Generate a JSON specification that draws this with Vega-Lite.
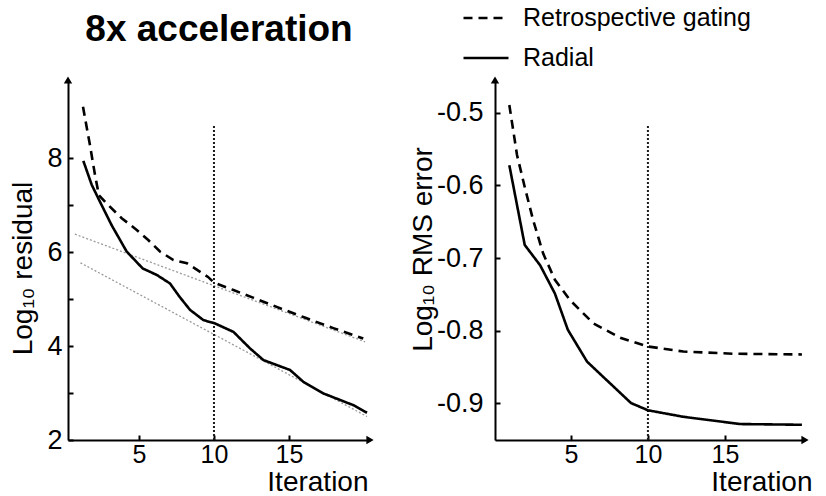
{
  "$schema": "https://vega.github.io/schema/vega-lite/v6.json",
  "autosize": {"type": "none"},
  "padding": {"left": 68, "top": 80, "right": 758, "bottom": 416},
  "background": "white",
  "align": "none",
  "spacing": 35,
  "resolve": {"legend": {"strokeDash": "independent"}},
  "config": {
    "font": "Liberation Sans",
    "view": {"stroke": null},
    "axis": {
      "grid": false, "domainColor": "black", "domainWidth": 2,
      "tickColor": "black", "tickWidth": 2, "tickSize": -5,
      "labelFont": "Liberation Sans", "labelFontSize": 27, "labelColor": "black",
      "titleFont": "Liberation Sans", "titleFontSize": 28, "titleFontWeight": "normal", "titleColor": "black",
      "labelFlush": false, "labelOverlap": false
    }
  },
  "datasets": {
    "left": [
      {"series": "Retrospective gating", "iter": 1.27, "value": 9.09},
      {"series": "Retrospective gating", "iter": 1.73, "value": 8.28},
      {"series": "Retrospective gating", "iter": 2.07, "value": 7.64},
      {"series": "Retrospective gating", "iter": 2.33, "value": 7.21},
      {"series": "Retrospective gating", "iter": 2.85, "value": 7.03},
      {"series": "Retrospective gating", "iter": 3.85, "value": 6.72},
      {"series": "Retrospective gating", "iter": 4.85, "value": 6.47},
      {"series": "Retrospective gating", "iter": 5.6, "value": 6.26},
      {"series": "Retrospective gating", "iter": 6.4, "value": 6.01},
      {"series": "Retrospective gating", "iter": 7.3, "value": 5.83},
      {"series": "Retrospective gating", "iter": 8.2, "value": 5.76},
      {"series": "Retrospective gating", "iter": 9.6, "value": 5.47},
      {"series": "Retrospective gating", "iter": 10, "value": 5.35},
      {"series": "Retrospective gating", "iter": 11.3, "value": 5.19},
      {"series": "Retrospective gating", "iter": 12.6, "value": 5.03},
      {"series": "Retrospective gating", "iter": 14.6, "value": 4.78},
      {"series": "Retrospective gating", "iter": 16, "value": 4.61},
      {"series": "Retrospective gating", "iter": 17.95, "value": 4.38},
      {"series": "Retrospective gating", "iter": 19.95, "value": 4.16},
      {"series": "Radial", "iter": 1.29, "value": 7.94},
      {"series": "Radial", "iter": 1.85, "value": 7.43},
      {"series": "Radial", "iter": 2.4, "value": 7.07},
      {"series": "Radial", "iter": 3.18, "value": 6.57},
      {"series": "Radial", "iter": 4.18, "value": 6.01},
      {"series": "Radial", "iter": 5.25, "value": 5.65},
      {"series": "Radial", "iter": 6.2, "value": 5.51},
      {"series": "Radial", "iter": 7.07, "value": 5.33},
      {"series": "Radial", "iter": 7.7, "value": 5.05},
      {"series": "Radial", "iter": 8.4, "value": 4.77},
      {"series": "Radial", "iter": 9.3, "value": 4.55},
      {"series": "Radial", "iter": 10.07, "value": 4.48},
      {"series": "Radial", "iter": 11.3, "value": 4.3},
      {"series": "Radial", "iter": 12.4, "value": 3.95},
      {"series": "Radial", "iter": 13.3, "value": 3.7},
      {"series": "Radial", "iter": 15.07, "value": 3.49},
      {"series": "Radial", "iter": 15.95, "value": 3.24},
      {"series": "Radial", "iter": 17.3, "value": 2.99},
      {"series": "Radial", "iter": 19.3, "value": 2.74},
      {"series": "Radial", "iter": 20.2, "value": 2.58}
    ],
    "leftTrend": [
      {"trend": "upper", "iter": 0.73, "value": 6.38},
      {"trend": "upper", "iter": 20.07, "value": 4.09},
      {"trend": "lower", "iter": 1.1, "value": 5.77},
      {"trend": "lower", "iter": 20.2, "value": 2.5}
    ],
    "right": [
      {"series": "Retrospective gating", "iter": 1, "value": -0.489},
      {"series": "Retrospective gating", "iter": 1.5, "value": -0.558},
      {"series": "Retrospective gating", "iter": 2, "value": -0.602},
      {"series": "Retrospective gating", "iter": 2.55, "value": -0.648},
      {"series": "Retrospective gating", "iter": 3.2, "value": -0.694},
      {"series": "Retrospective gating", "iter": 3.96, "value": -0.73},
      {"series": "Retrospective gating", "iter": 4.94, "value": -0.758},
      {"series": "Retrospective gating", "iter": 6.45, "value": -0.79},
      {"series": "Retrospective gating", "iter": 8.2, "value": -0.81},
      {"series": "Retrospective gating", "iter": 10, "value": -0.822},
      {"series": "Retrospective gating", "iter": 12.3, "value": -0.829},
      {"series": "Retrospective gating", "iter": 15.5, "value": -0.832},
      {"series": "Retrospective gating", "iter": 20, "value": -0.833},
      {"series": "Radial", "iter": 1, "value": -0.572},
      {"series": "Radial", "iter": 2, "value": -0.682},
      {"series": "Radial", "iter": 3, "value": -0.71},
      {"series": "Radial", "iter": 3.96, "value": -0.749},
      {"series": "Radial", "iter": 4.8, "value": -0.799},
      {"series": "Radial", "iter": 6.05, "value": -0.843},
      {"series": "Radial", "iter": 8.9, "value": -0.9},
      {"series": "Radial", "iter": 10, "value": -0.91},
      {"series": "Radial", "iter": 12.3, "value": -0.919},
      {"series": "Radial", "iter": 16, "value": -0.929},
      {"series": "Radial", "iter": 20, "value": -0.93}
    ]
  },
  "hconcat": [
    {
      "width": 302,
      "height": 360,
      "title": {"text": "8x acceleration", "fontSize": 37, "fontWeight": "bold", "font": "Liberation Sans", "color": "black", "anchor": "middle", "baseline": "alphabetic", "offset": -2},
      "layer": [
        {
          "data": {"name": "leftTrend"},
          "mark": {"type": "line", "color": "#9a9a9a", "strokeWidth": 1.3, "strokeDash": [2, 2]},
          "encoding": {
            "x": {"field": "iter", "type": "quantitative", "scale": {"domain": [0.27, 20.4], "nice": false, "zero": false},
              "axis": {"values": [5, 10, 15], "title": "Iteration", "labelFontSize": 25, "labelPadding": 7, "titleX": 300, "titleY": 50, "titleAlign": "right", "titleBaseline": "alphabetic"}},
            "y": {"field": "value", "type": "quantitative", "scale": {"domain": [2, 9.66], "nice": false, "zero": false},
              "axis": {"values": [2, 3, 4, 5, 6, 7, 8], "labelExpr": "datum.value % 2 == 0 ? datum.label : ''", "title": "Log₁₀ residual", "labelPadding": 11, "titleX": -45, "titleY": 188, "titleAngle": 270, "titleAlign": "center", "titleBaseline": "middle"}},
            "detail": {"field": "trend", "type": "nominal"}
          }
        },
        {
          "data": {"values": [{"iter": 10, "lo": 2, "hi": 8.7}]},
          "mark": {"type": "rule", "color": "#1a1a1a", "strokeWidth": 2, "strokeDash": [2, 2]},
          "encoding": {
            "x": {"field": "iter", "type": "quantitative"},
            "y": {"field": "lo", "type": "quantitative"},
            "y2": {"field": "hi"}
          }
        },
        {
          "data": {"name": "left"},
          "mark": {"type": "line", "color": "black", "strokeWidth": 2.6},
          "encoding": {
            "x": {"field": "iter", "type": "quantitative"},
            "y": {"field": "value", "type": "quantitative"},
            "strokeDash": {"field": "series", "type": "nominal",
              "scale": {"domain": ["Retrospective gating", "Radial"], "range": [[9, 6], [1, 0]]},
              "legend": null}
          }
        },
        {
          "data": {"values": [{"iter": 0.27, "value": 9.66}]},
          "mark": {"type": "point", "shape": "triangle-up", "filled": true, "color": "black", "size": 70, "opacity": 1},
          "encoding": {"x": {"field": "iter", "type": "quantitative"}, "y": {"field": "value", "type": "quantitative"}}
        },
        {
          "data": {"values": [{"iter": 20.4, "value": 2}]},
          "mark": {"type": "point", "shape": "triangle-right", "filled": true, "color": "black", "size": 70, "opacity": 1},
          "encoding": {"x": {"field": "iter", "type": "quantitative"}, "y": {"field": "value", "type": "quantitative"}}
        }
      ]
    },
    {
      "width": 310,
      "height": 360,
      "layer": [
        {
          "data": {"values": [{"iter": 10, "lo": -0.951, "hi": -0.518}]},
          "mark": {"type": "rule", "color": "#1a1a1a", "strokeWidth": 2, "strokeDash": [2, 2]},
          "encoding": {
            "x": {"field": "iter", "type": "quantitative", "scale": {"domain": [0.07, 20.2], "nice": false, "zero": false},
              "axis": {"values": [5, 10, 15], "title": "Iteration", "labelFontSize": 25, "labelPadding": 7, "titleX": 317, "titleY": 50, "titleAlign": "right", "titleBaseline": "alphabetic"}},
            "y": {"field": "lo", "type": "quantitative", "scale": {"domain": [-0.951, -0.4545], "nice": false, "zero": false},
              "axis": {"values": [-0.9, -0.8, -0.7, -0.6, -0.5], "format": ".1f", "labelExpr": "replace(datum.label, '−', '-')", "title": "Log₁₀ RMS error", "labelPadding": 17, "titleX": -72, "titleY": 169, "titleAngle": 270, "titleAlign": "center", "titleBaseline": "middle"}},
            "y2": {"field": "hi"}
          }
        },
        {
          "data": {"name": "right"},
          "mark": {"type": "line", "color": "black", "strokeWidth": 2.6},
          "encoding": {
            "x": {"field": "iter", "type": "quantitative"},
            "y": {"field": "value", "type": "quantitative"},
            "strokeDash": {"field": "series", "type": "nominal",
              "legend": {"orient": "none", "legendX": -33, "legendY": -82, "title": null, "symbolType": "stroke", "symbolSize": 2025, "symbolStrokeWidth": 2.5, "symbolStrokeColor": "black", "labelFontSize": 25, "labelFont": "Liberation Sans", "labelColor": "black", "labelOffset": 13, "labelLimit": 400, "clipHeight": 40, "rowPadding": 0}}
          }
        },
        {
          "data": {"values": [{"iter": 0.07, "value": -0.4545}]},
          "mark": {"type": "point", "shape": "triangle-up", "filled": true, "color": "black", "size": 70, "opacity": 1},
          "encoding": {"x": {"field": "iter", "type": "quantitative"}, "y": {"field": "value", "type": "quantitative"}}
        },
        {
          "data": {"values": [{"iter": 20.2, "value": -0.951}]},
          "mark": {"type": "point", "shape": "triangle-right", "filled": true, "color": "black", "size": 70, "opacity": 1},
          "encoding": {"x": {"field": "iter", "type": "quantitative"}, "y": {"field": "value", "type": "quantitative"}}
        }
      ]
    }
  ]
}
